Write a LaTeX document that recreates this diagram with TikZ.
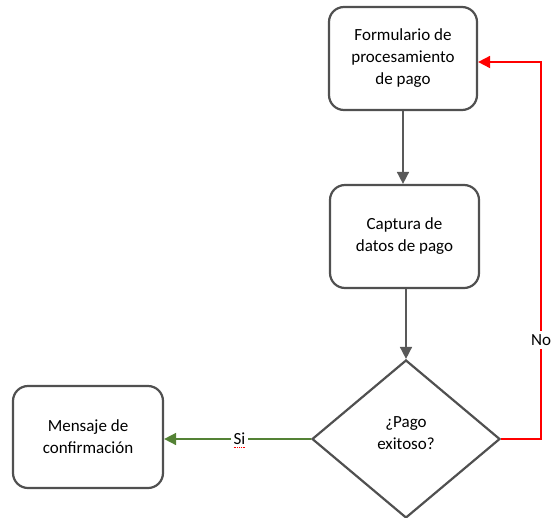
\documentclass[tikz,border=0pt]{standalone}
\usepackage{fontspec}
\setmainfont{Carlito}
\usetikzlibrary{shapes.geometric,arrows.meta}
\definecolor{boxgray}{HTML}{505050}
\definecolor{arrgray}{HTML}{595959}
\definecolor{okgreen}{HTML}{548235}
\definecolor{nored}{HTML}{FF0000}
\tikzset{
  procbox/.style={draw=boxgray, line width=2.2pt, rounded corners=15pt,
    align=center, font=\fontsize{17}{22}\selectfont, inner sep=0pt},
  decision/.style={draw=boxgray, line width=2.2pt, diamond, inner sep=0pt,
    minimum width=188pt, minimum height=158pt, align=center,
    font=\fontsize{17}{22}\selectfont},
  tip/.style={-{Triangle[length=12pt,width=12pt]}},
  flowarrow/.style={tip, draw=arrgray, line width=1.6pt},
  yesarrow/.style={tip, draw=okgreen, line width=1.6pt},
  noarrow/.style={tip, draw=nored, line width=1.8pt},
  edgelabel/.style={fill=white, inner sep=3pt, font=\fontsize{17}{20}\selectfont}
}
\begin{document}
\begin{tikzpicture}[x=1pt,y=-1pt]
  \useasboundingbox (0,0) rectangle (551,517);
  % process boxes
  \node[procbox, minimum width=148pt, minimum height=103pt] (form) at (403,58.5)
    {Formulario de\\procesamiento\\de pago};
  \node[procbox, minimum width=149pt, minimum height=103pt] (capt) at (404.5,236.5)
    {Captura de\\datos de pago};
  \node[decision] (dec) at (406,439) {¿Pago\\exitoso?\\[-10pt]};
  \node[procbox, minimum width=150pt, minimum height=102pt] (msg) at (88,437)
    {Mensaje de\\confirmación};
  % flow connectors
  \draw[flowarrow] (form.south) -- (form.south |- capt.north);
  \draw[flowarrow] (capt.south -| dec.north) -- (dec.north);
  \draw[yesarrow] (dec.west) -- (msg.east |- dec.west)
    node[edgelabel, midway, xshift=2pt] (si) {Si};
  \draw[nored, densely dotted, line width=0.8pt]
    ([xshift=-6pt,yshift=1.5pt]si.south) -- ([xshift=6pt,yshift=1.5pt]si.south);
  \coordinate (loopR) at (541,439);
  \coordinate (loopT) at (541,62);
  \draw[noarrow] (dec.east) -- (loopR) -- (loopT) -- (form.east |- loopT);
  \node[edgelabel] (no) at (541,340) {No};
\end{tikzpicture}
\end{document}
